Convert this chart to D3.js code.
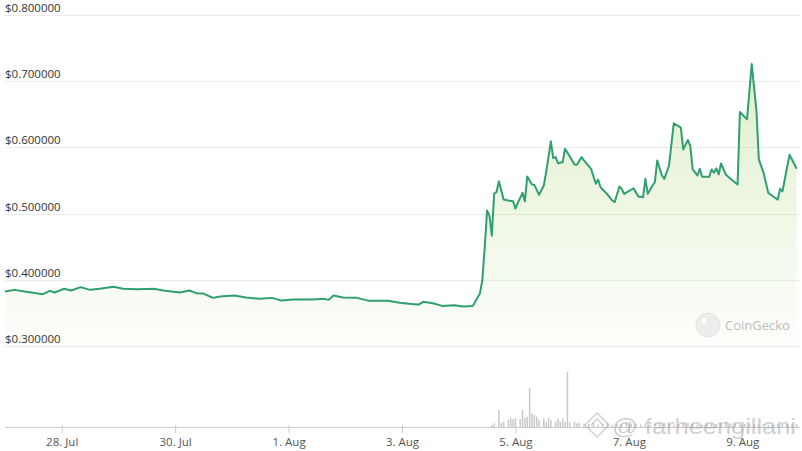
<!DOCTYPE html>
<html>
<head>
<meta charset="utf-8">
<script src="https://cdn.jsdelivr.net/npm/d3@7"></script>
<style>
  body { margin: 0; background: #fff; }
  svg { display: block; font-family: "Open Sans", "Noto Sans", sans-serif; }
</style>
</head>
<body>
<script>
// price points: hours since 27 Jul 00:00, price in USD
var priceHours = [0,4,9,16,19,21,25,28,32,36,40,46,50,56,63,67,74,78,81,84,88,91,97,102,108,113,117,122,130,135,137,139,143,149,154,162,167,173,175,177,181,185,190,194,198,201,202,203,
  204,205,206,207,208,209,211,213,215,216,217,219,220,221,223,224,226,228,229,231,232,233,234,236,237,239,241,242,244,245,248,250,251,252,255,257,258,260,261,262,266,268,270,271,272,274,275,276,278,279,281,283,286,287,289,290,291,293,294,295,298,299,300,301,302,303,305,307,310,311,314,316,318,319,321,323,325,327,328,329,332,335];
var prices = [0.3823,0.3848,0.3818,0.3783,0.3833,0.3808,0.3864,0.3838,0.3889,0.3848,0.3864,0.3894,0.3864,0.3859,0.3864,0.3838,0.3808,0.3838,0.3798,0.3792,0.3727,0.3747,0.3762,0.3732,0.3712,0.3727,0.3686,0.3702,0.3702,0.3712,0.3697,0.3762,0.3732,0.3727,0.3682,0.3682,0.3652,0.3632,0.3626,0.3667,0.3647,0.3606,0.3617,0.3595,0.3606,0.3798,0.4000,0.4485,
  0.5045,0.4970,0.4667,0.5303,0.5323,0.5489,0.5212,0.5197,0.5186,0.5076,0.5162,0.5313,0.5186,0.5561,0.5439,0.5435,0.5283,0.5424,0.5626,0.6091,0.5838,0.5853,0.5762,0.5777,0.5980,0.5864,0.5742,0.5738,0.5853,0.5803,0.5677,0.5450,0.5515,0.5398,0.5288,0.5197,0.5171,0.5409,0.5374,0.5298,0.5383,0.5258,0.5247,0.5525,0.5298,0.5424,0.5474,0.5803,0.5576,0.5525,0.5727,0.6364,0.6300,0.5970,0.6111,0.6020,0.5667,0.5576,0.5677,0.5556,0.5556,0.5667,0.5617,0.5682,0.5591,0.5758,0.5591,0.5525,0.5439,0.6535,0.6424,0.7258,0.6545,0.5818,0.5616,0.5313,0.5262,0.5212,0.5374,0.5338,0.5889,0.5677];

// volume bars: hours since start, volume in million USD
var volHours = [206,207,209,210,211,213,214,215,216,218,219,220,221,222,223,224,225,226,228,229,230,231,233,234,235,236,237,238,239,241,242,243,
  245,247,249,251,253,255,257,259,261,263,265,267,269,271,273,275,277,279,281,283,285,287,289,291,293,295,297,299,301,303,305,307,309,311,313,315,317,319,321,323,325,327,329,331,333,335];
var volumes = [0.2,0.37,1.7,0.4,0.53,0.7,0.87,0.77,0.87,0.77,1.7,0.93,1.03,3.93,1.37,1.2,1.03,0.7,0.87,0.53,0.93,0.7,0.53,0.8,0.53,0.87,0.53,5.53,0.47,0.53,0.37,0.43,
  0.35,0.3,0.4,0.25,0.3,0.35,0.2,0.3,0.25,0.4,0.3,0.35,0.25,0.3,0.2,0.3,0.35,0.4,0.3,0.25,0.3,0.35,0.45,0.3,0.25,0.2,0.3,0.35,0.3,0.4,0.5,0.35,0.3,0.25,0.3,0.35,0.3,0.25,0.3,0.2,0.25,0.3,0.35,0.3,0.25,0.3];

var yTicks = [0.3, 0.4, 0.5, 0.6, 0.7, 0.8];
var xTickDates = ["2024-07-28","2024-07-30","2024-08-01","2024-08-03","2024-08-05","2024-08-07","2024-08-09"];

var W = 802, H = 451;
var start = new Date(2024, 6, 27, 0);
var hourToDate = function(h) { return new Date(start.getTime() + h * 3600e3); };

var priceData = priceHours.map(function(h, i) { return { t: hourToDate(h), v: prices[i] }; });
var n = Math.min(volHours.length, volumes.length);
var volData = d3.range(n).map(function(i) { return { t: hourToDate(volHours[i]), v: volumes[i] }; });

var x = d3.scaleTime().domain([start, hourToDate(336)]).range([5, 799]);
var y = d3.scaleLinear().domain([0.3, 0.8]).range([346, 15]);
var yVol = d3.scaleLinear().domain([0, 6]).range([427, 367]);

var svg = d3.select("body").append("svg").attr("width", W).attr("height", H);

var defs = svg.append("defs");
var grad = defs.append("linearGradient").attr("id", "fillGrad")
  .attr("gradientUnits", "userSpaceOnUse").attr("x1", 0).attr("x2", 0).attr("y1", y(0.8)).attr("y2", y(0.3));
grad.append("stop").attr("offset", "0%").attr("stop-color", "#8dc647").attr("stop-opacity", 0.32);
grad.append("stop").attr("offset", "100%").attr("stop-color", "#8dc647").attr("stop-opacity", 0.02);

// grid
svg.append("g").selectAll("line").data(yTicks).enter().append("line")
  .attr("x1", 5).attr("x2", 800)
  .attr("y1", function(d) { return Math.round(y(d)) + 0.5; })
  .attr("y2", function(d) { return Math.round(y(d)) + 0.5; })
  .attr("stroke", "#ececec");

svg.append("g").selectAll("text").data(yTicks).enter().append("text")
  .attr("x", 5).attr("y", function(d) { return y(d) - 3; })
  .attr("font-size", 11.5).attr("fill", "#333")
  .text(function(d) { return "$" + d.toFixed(6); });

// volume bars
svg.append("g").selectAll("rect").data(volData).enter().append("rect")
  .attr("x", function(d) { return x(d.t) - 0.75; })
  .attr("width", 1.5)
  .attr("y", function(d) { return yVol(d.v); })
  .attr("height", function(d) { return yVol(0) - yVol(d.v); })
  .attr("fill", "#c9c9c9");

// area + line
var area = d3.area().x(function(d) { return x(d.t); }).y0(y(0.3)).y1(function(d) { return y(d.v); });
var line = d3.line().x(function(d) { return x(d.t); }).y(function(d) { return y(d.v); });

svg.append("path").datum(priceData).attr("d", area).attr("fill", "url(#fillGrad)");
svg.append("path").datum(priceData).attr("d", line)
  .attr("fill", "none").attr("stroke", "#2f9f6f").attr("stroke-width", 2).attr("stroke-linejoin", "round");

// x axis
var xAxis = d3.axisBottom(x)
  .tickValues(xTickDates.map(function(s) { return d3.timeParse("%Y-%m-%d")(s); }))
  .tickFormat(d3.timeFormat("%-d. %b"))
  .tickSize(6).tickSizeOuter(0);
var gx = svg.append("g").attr("transform", "translate(0,427)").call(xAxis);
gx.select(".domain").attr("stroke", "#ccc").attr("d", "M5,0.5H800");
gx.selectAll(".tick line").attr("stroke", "#ccc").attr("y1", -2);
gx.selectAll(".tick text").attr("font-family", "\"Open Sans\", sans-serif").attr("font-size", 11.5).attr("fill", "#555").attr("dy", "0.9em");

// CoinGecko mark
var cg = svg.append("g").attr("opacity", 0.55);
cg.append("circle").attr("cx", 708).attr("cy", 325).attr("r", 12).attr("fill", "#e2e2e2").attr("stroke", "#d0d0d0");
cg.append("circle").attr("cx", 704).attr("cy", 321).attr("r", 2.5).attr("fill", "#fff");
cg.append("text").attr("x", 725).attr("y", 330).attr("font-size", 13).attr("fill", "#888").text("CoinGecko");

// watermark
var wm = svg.append("g").attr("opacity", 0.45);
wm.append("path").attr("d", "M597,413 L609,425 L597,437 L585,425 Z M591,425 L597,419 L603,425")
  .attr("fill", "none").attr("stroke", "#999").attr("stroke-width", 1.5);
wm.append("text").attr("x", 612).attr("y", 434).attr("font-size", 22).attr("fill", "#999")
  .attr("font-family", "\"Liberation Sans\", sans-serif")
  .attr("textLength", 184).attr("lengthAdjust", "spacingAndGlyphs")
  .text("@ farheengillani");
</script>
</body>
</html>
